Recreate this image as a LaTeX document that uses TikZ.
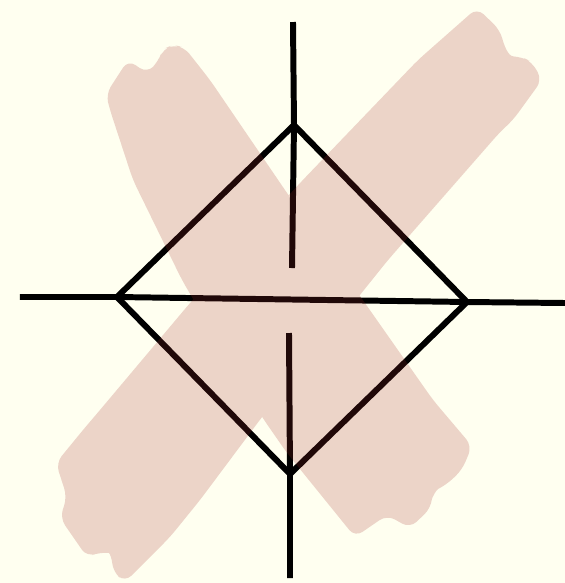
\documentclass[tikz,border=0pt]{standalone}
\definecolor{paper}{RGB}{255,255,240}
\definecolor{smear}{RGB}{160,40,40}
\tikzset{
  ink/.style={line width=3.4pt,black},
  brush/.style={fill=smear,fill opacity=0.2,rounded corners=5pt}
}
\begin{document}
\begin{tikzpicture}[x=0.02cm,y=-0.02cm]
  % paper
  \useasboundingbox (0,0) rectangle (565,583);
  \fill[paper] (0,0) rectangle (565,583);
  % diamond corners N, E, S, W and the free line ends
  \foreach \n/\x/\y in {N/294/125,E/467/302,S/290/474,W/117/297,
                        Ntip/293/22,Ngap/292/268,Sgap/289/333,Stip/290/578,
                        Wtip/20/297,Etip/565/303}{
    \coordinate (\n) at (\x,\y);
  }
  % cross lines (vertical one broken in the middle)
  \draw[ink] (Wtip) -- (W) -- (E) -- (Etip);
  \draw[ink] (Ntip) -- (N) -- (Ngap);
  \draw[ink] (Sgap) -- (S) -- (Stip);
  % diamond
  \draw[ink] (N) -- (E) -- (S) -- (W) -- cycle;
  % brush X on top (both strokes in one path, so the overlap is not darker)
  \fill[brush]
    % stroke from top left to bottom right
    (106,94) -- (128,60) -- (147,73) -- (158,62) -- (163,49) -- (173,45)
      -- (184,47) -- (210,80) -- (287,193) -- (360,296) -- (433,400)
      -- (472,446) -- (462,470) -- (446,485)
      .. controls (436,490) and (432,498) .. (431,508)
      -- (410,528) -- (387,515) -- (355,537) -- (287,453) -- (262,417)
      -- (182,280) -- (133,180) -- (110,110) -- cycle
    % stroke from top right to bottom left
    (477,8) -- (500,30) .. controls (504,45) and (508,56) .. (522,57)
      -- (532,62) -- (542,80) -- (513,120) -- (500,132) -- (388,260)
      -- (262,417) -- (200,500) -- (170,537) -- (125,582) -- (113,572)
      .. controls (112,560) and (110,553) .. (100,552)
      -- (87,557) -- (60,518) -- (67,497) -- (56,463) -- (83,430)
      -- (100,410) -- (190,303) -- (300,183) -- (418,60) -- cycle;
\end{tikzpicture}
\end{document}
